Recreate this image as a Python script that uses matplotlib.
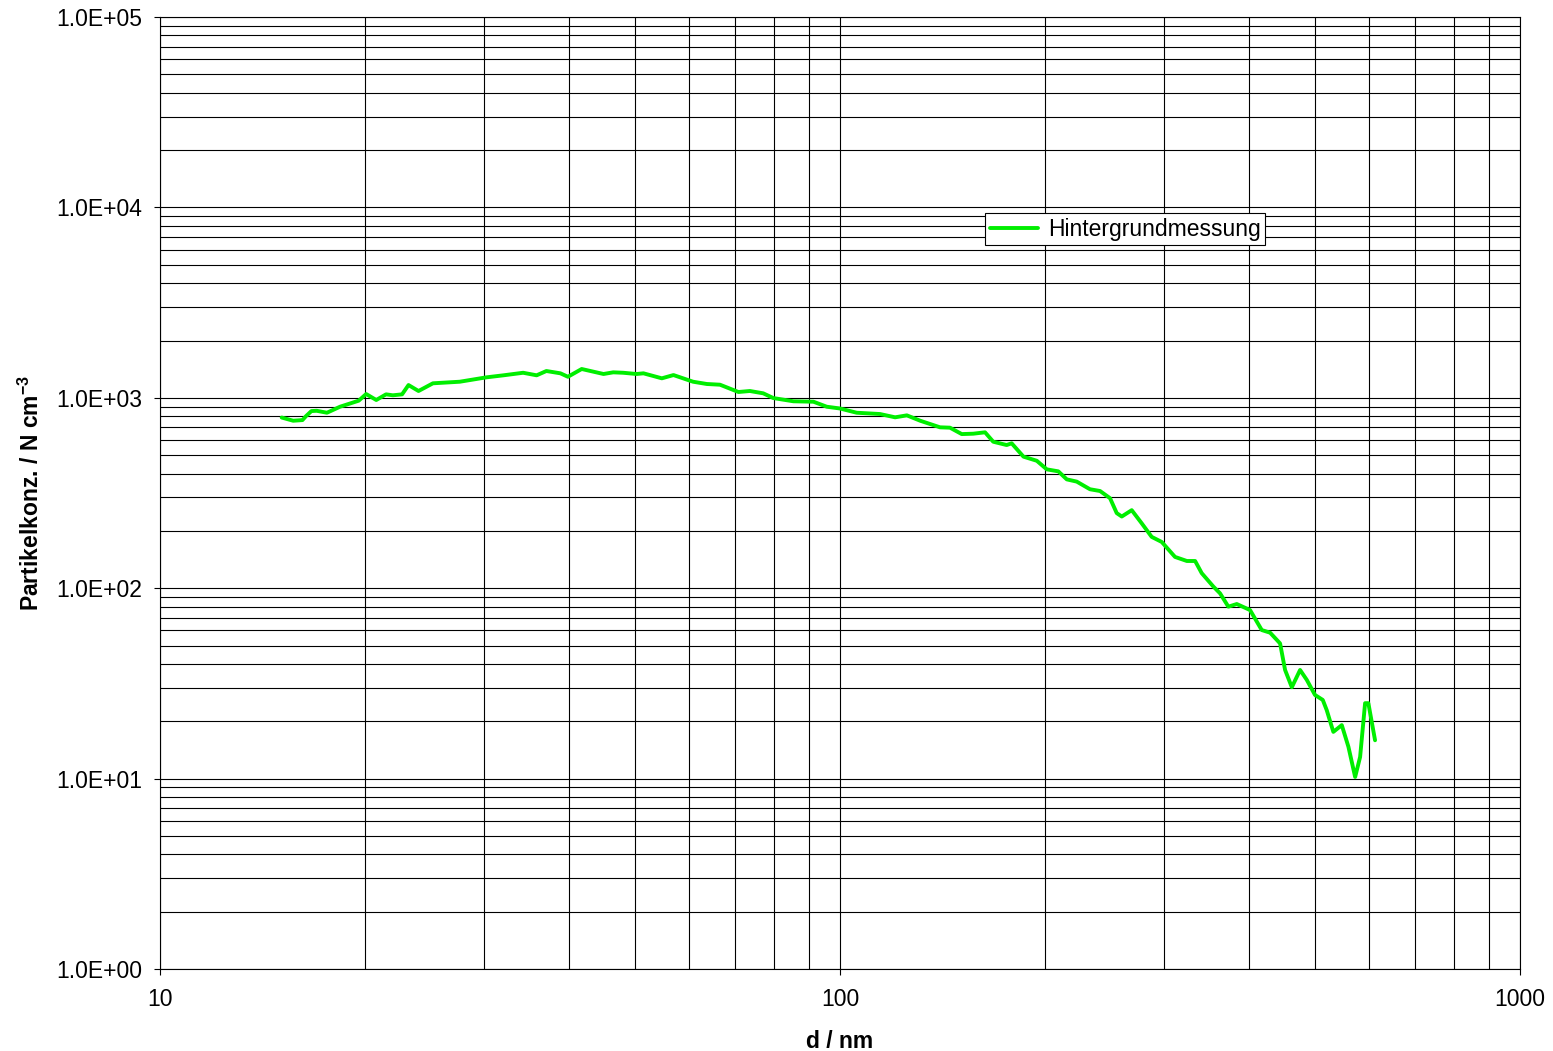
#!/usr/bin/env python3
"""Particle size distribution, background measurement (log-log, Excel style)."""

import numpy as np
import matplotlib
matplotlib.use("Agg")
import matplotlib.pyplot as plt
from matplotlib.ticker import LogLocator, FuncFormatter, NullFormatter

plt.rcParams["font.family"] = ["Liberation Sans", "DejaVu Sans"]
plt.rcParams["mathtext.fontset"] = "custom"
plt.rcParams["mathtext.rm"] = "Liberation Sans"
plt.rcParams["mathtext.bf"] = "Liberation Sans:bold"

LINE_COL = "#00ee00"

# particle diameter (nm) and concentration (N cm^-3)
diameter_nm = [
    15.1, 15.7, 16.2, 16.4, 16.7, 17.0, 17.6, 18.4, 19.6, 20.1,
    20.8, 21.5, 22.0, 22.7, 23.2, 24.0, 25.2, 27.6, 30.2, 32.0,
    34.2, 35.8, 37.0, 38.8, 39.8, 41.7, 44.9, 46.4, 48.0, 50.2,
    51.4, 54.7, 56.9, 60.8, 63.7, 66.6, 70.9, 73.7, 77.1, 79.8,
    85.4, 91.4, 95.6, 100.0, 105.8, 114.5, 120.5, 125.4, 131.2, 140.3,
    145.1, 151.0, 157.0, 163.4, 168.0, 175.8, 178.8, 186.1, 194.7, 201.4,
    209.4, 215.5, 222.9, 233.1, 241.2, 249.5, 255.2, 259.6, 268.5, 277.8,
    287.3, 297.2, 310.9, 323.6, 332.8, 340.3, 354.0, 362.1, 372.4, 383.2,
    400.8, 417.0, 429.0, 443.7, 451.3, 461.7, 474.8, 485.7, 499.4, 512.7,
    519.6, 531.4, 546.8, 559.2, 572.1, 581.8, 591.7, 598.3, 612.0,
]
concentration = [
    788, 758, 764, 802, 852, 855, 835, 898, 966, 1047,
    974, 1043, 1031, 1043, 1167, 1086, 1192, 1215, 1281, 1313,
    1354, 1313, 1383, 1345, 1290, 1417, 1334, 1361, 1354, 1334,
    1345, 1266, 1317, 1215, 1182, 1172, 1073, 1086, 1056, 997,
    959, 954, 898, 879, 835, 822, 790, 809, 758, 700,
    697, 645, 648, 659, 588, 565, 577, 491, 467, 421,
    411, 373, 363, 331, 324, 297, 248, 238, 257, 219,
    186, 175, 146, 139, 139, 120, 102, 94.0, 80.0, 82.6,
    76.8, 60.3, 58.4, 51.3, 37.2, 30.2, 37.2, 33.0, 27.5, 25.9,
    22.9, 17.6, 19.1, 14.7, 10.2, 13.0, 24.9, 24.9, 15.9,
]

SERIES_LABEL = "Hintergrundmessung"
X_LABEL = "d / nm"
Y_LABEL = r"Partikelkonz. / N cm$^{\mathbf{-3}}$"

FS = 16.5


def sci_label(v, _pos):
    return f"{v:.1E}"


fig = plt.figure(figsize=(15.53, 10.51), dpi=100)
ax = fig.add_axes([0.1030, 0.0780, 0.8758, 0.9058])

ax.plot(diameter_nm, concentration, color=LINE_COL, linewidth=2.8,
        solid_joinstyle="round", solid_capstyle="round",
        label=SERIES_LABEL, zorder=3)

ax.set_xscale("log")
ax.set_yscale("log")
ax.set_xlim(10, 1000)
ax.set_ylim(1, 1e5)

ax.xaxis.set_major_locator(LogLocator(base=10, numticks=10))
ax.xaxis.set_minor_locator(LogLocator(base=10, subs=np.arange(2, 10), numticks=20))
ax.yaxis.set_major_locator(LogLocator(base=10, numticks=10))
ax.yaxis.set_minor_locator(LogLocator(base=10, subs=np.arange(2, 10), numticks=20))
ax.xaxis.set_major_formatter(FuncFormatter(lambda v, _p: f"{int(round(v))}"))
ax.yaxis.set_major_formatter(FuncFormatter(sci_label))
ax.xaxis.set_minor_formatter(NullFormatter())
ax.yaxis.set_minor_formatter(NullFormatter())

ax.grid(True, which="both", color="black", linewidth=0.8)
ax.set_axisbelow(True)
ax.tick_params(which="major", direction="out", length=4.5, width=0.8,
               labelsize=FS, colors="black")
ax.tick_params(which="minor", length=0)
ax.tick_params(axis="x", pad=9.5)
ax.tick_params(axis="y", pad=8)
for sp in ax.spines.values():
    sp.set_color("black")
    sp.set_linewidth(0.8)

ax.set_xlabel(X_LABEL, fontsize=FS, fontweight="bold", labelpad=13)
ax.set_ylabel(Y_LABEL, fontsize=FS, fontweight="bold", labelpad=9)

leg = ax.legend(loc="upper left", bbox_to_anchor=(0.6066, 0.794),
                borderaxespad=0, fontsize=FS, frameon=True, fancybox=False,
                handlelength=2.1, handletextpad=0.45, borderpad=0.2,
                edgecolor="black")
leg.get_frame().set_linewidth(0.8)
leg.get_frame().set_alpha(1)

fig.savefig("out.png", dpi=100)
